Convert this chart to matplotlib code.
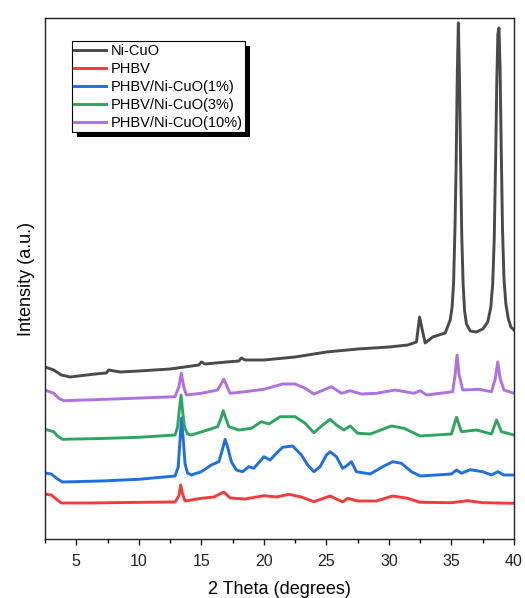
import numpy as np
import matplotlib
matplotlib.use('Agg')
import matplotlib.pyplot as plt
from matplotlib.patches import Rectangle
from matplotlib.ticker import MultipleLocator
from matplotlib.transforms import IdentityTransform

plt.rcParams['font.family'] = ['Liberation Sans', 'DejaVu Sans']

# values (2theta in degrees, intensity in arbitrary units)
x_nicuo = [2.5, 3.2, 3.8, 4.5, 6.5, 7.4, 7.6, 8.5, 10, 12.5, 14.8, 15.0, 15.3, 17, 18.0, 18.2, 18.5,
           20, 22.5, 25, 27.5, 30, 31.5, 32.2, 32.45, 32.65, 32.9, 33.5, 34, 34.5, 34.9, 35.05, 35.17,
           35.28, 35.37, 35.46, 35.55, 35.64, 35.73, 35.82, 35.93, 36.05, 36.2, 36.5, 37, 37.5, 37.9,
           38.15, 38.3, 38.42, 38.52, 38.62, 38.71, 38.8, 38.89, 38.98, 39.08, 39.2, 39.35, 39.55,
           39.75, 40]
y_nicuo = [172, 169, 164, 162, 165, 166, 169, 167, 168, 170, 174, 177, 175, 177, 178, 181, 179,
           179, 182, 187, 190, 192, 194, 197, 222, 210, 196, 202, 204, 206, 219, 232, 256,
           310, 372, 460, 516, 462, 380, 305, 255, 228, 215, 208, 207, 210, 217,
           232, 256, 300, 372, 455, 505, 511, 470, 390, 310, 260, 235, 220,
           212, 209]

x_phbv = [2.5, 3.0, 3.5, 3.8, 6, 9, 12.5, 12.9, 13.2, 13.35, 13.5, 13.7, 15, 16, 16.8, 17.3, 18.5,
          20, 21, 22, 23, 24, 25.3, 26.3, 26.7, 27.5, 29, 30.3, 31.5, 32.5, 35, 36.3, 37.5, 40]
y_phbv = [45, 44, 39, 36, 36, 36.5, 37, 37, 43, 54, 45, 38, 40.7, 42, 47, 41, 40,
          43.3, 42, 44.7, 42, 37.3, 43, 37, 40.7, 38, 38, 43, 40.7, 36.7, 36.3, 38.3, 36.3, 35.7]

x_1pct = [2.5, 3.0, 3.5, 3.9, 7, 10, 12.9, 13.15, 13.3, 13.42, 13.55, 13.7, 13.9, 14.2, 15, 15.8,
          16.4, 16.7, 16.9, 17.1, 17.4, 17.8, 18.3, 18.8, 19.2, 20, 20.5, 21, 21.5, 22.3, 23, 23.5,
          24, 24.5, 25.0, 25.3, 25.8, 26.3, 26.6, 27.0, 27.4, 28.5, 29.5, 30.3, 31, 31.8, 32.5, 35,
          35.4, 35.8, 36.5, 37.5, 38.2, 38.7, 39.2, 40]
y_1pct = [66, 65, 60, 57, 58, 59.7, 63, 72, 100, 121, 100, 75, 66, 64, 67.3, 74,
          77.3, 90, 99.7, 92, 77.3, 69, 67.3, 72.3, 70.7, 82.3, 79, 85.7, 91.7, 93, 84, 74,
          67.3, 72.3, 84, 87.3, 82.3, 70.7, 73, 77.3, 67.3, 65, 72.3, 77.3, 75.7, 67.3, 63, 65,
          69, 65.7, 69.3, 67.3, 64, 67.3, 64, 64]

x_3pct = [2.5, 3.2, 3.5, 3.9, 7, 10, 12.9, 13.1, 13.25, 13.38, 13.5, 13.65, 13.9, 14.2, 15.5, 16.3,
          16.55, 16.75, 16.95, 17.2, 18, 19, 19.8, 20.4, 21.3, 22.5, 23.3, 24, 24.8, 25.3, 25.8,
          26.4, 26.9, 27.5, 28.5, 30.2, 31.2, 32.5, 35, 35.4, 35.8, 37, 38.2, 38.6, 39, 40]
y_3pct = [109.7, 107.3, 103, 99.7, 100.5, 101.7, 104, 112, 130, 144, 128, 112, 105, 104, 109, 112.3,
          120, 128.3, 121, 112.3, 109, 110.7, 117.3, 115, 122.3, 122.3, 115.7, 106.3, 115, 119.7, 114,
          109, 113, 105.7, 105, 113, 110.7, 103, 105, 121.7, 107.3, 109, 105, 119, 107.3, 104]

x_10pct = [2.5, 3.2, 3.6, 4, 8, 12.9, 13.2, 13.4, 13.6, 13.8, 15, 16.3, 16.8, 17.3, 18.5, 20, 21.5,
           22.5, 23.3, 24, 25.4, 26.2, 26.9, 27.8, 29, 30.5, 32, 32.5, 33, 35.1, 35.3, 35.45, 35.6,
           35.9, 37.2, 38.2, 38.5, 38.7, 38.9, 39.2, 40]
y_10pct = [149, 145.7, 140.7, 138.3, 140, 142.3, 152, 165.7, 152, 144, 145.7, 149, 159.7, 145.7, 147.3, 149.7, 155,
           155, 150.7, 145, 152.3, 145.7, 148.3, 145, 145.7, 149, 145.7, 148.3, 144, 147.3, 165, 184, 165,
           149, 149.7, 147.3, 160, 177, 160, 149, 145.7]

labels = ['Ni-CuO', 'PHBV', 'PHBV/Ni-CuO(1%)', 'PHBV/Ni-CuO(3%)', 'PHBV/Ni-CuO(10%)']
colors = ['#4a4a4a', '#f03c3c', '#1f6fe0', '#2ea55f', '#b070e0']

series = [(x_nicuo, y_nicuo), (x_phbv, y_phbv), (x_1pct, y_1pct), (x_3pct, y_3pct), (x_10pct, y_10pct)]

fig = plt.figure(figsize=(5.25, 5.98), dpi=100)
ax = fig.add_axes([45/525, 1-539/598, 469/525, 521/598])

for (xs, ys), lab, c in zip(series, labels, colors):
    ax.plot(xs, ys, color=c, lw=2.1, label=lab, solid_joinstyle='round')

ax.set_xlim(2.5, 40)
ax.set_ylim(0, 521)
ax.xaxis.set_major_locator(MultipleLocator(5))
ax.xaxis.set_minor_locator(MultipleLocator(2.5))
ax.tick_params(axis='x', which='major', direction='out', length=4.5, width=1, pad=6,
               labelsize=11.5, colors='#222222')
ax.tick_params(axis='x', which='minor', direction='out', length=3, width=1)
ax.set_yticks([])
for sp in ax.spines.values():
    sp.set_color('#222222')
    sp.set_linewidth(1)

ax.set_xlabel('2 Theta (degrees)', fontsize=13, labelpad=9)
ax.set_ylabel('Intensity (a.u.)', fontsize=13, labelpad=7)

leg = ax.legend(loc='upper left', bbox_to_anchor=(0.057, 0.955), borderaxespad=0,
                fancybox=False, edgecolor='black', framealpha=1, fontsize=10.5,
                handlelength=2.2, handletextpad=0.3, labelspacing=0.28, borderpad=0.15)
leg.get_frame().set_linewidth(0.8)
leg.set_zorder(6)

fig.canvas.draw()
bb = leg.get_window_extent()
ax.add_patch(Rectangle((bb.x0 + 5, bb.y0 - 5), bb.width, bb.height, transform=IdentityTransform(),
                       facecolor='black', edgecolor='none', zorder=5))
ax.set_xlim(2.5, 40)
ax.set_ylim(0, 521)

fig.savefig('out.png', dpi=100)
